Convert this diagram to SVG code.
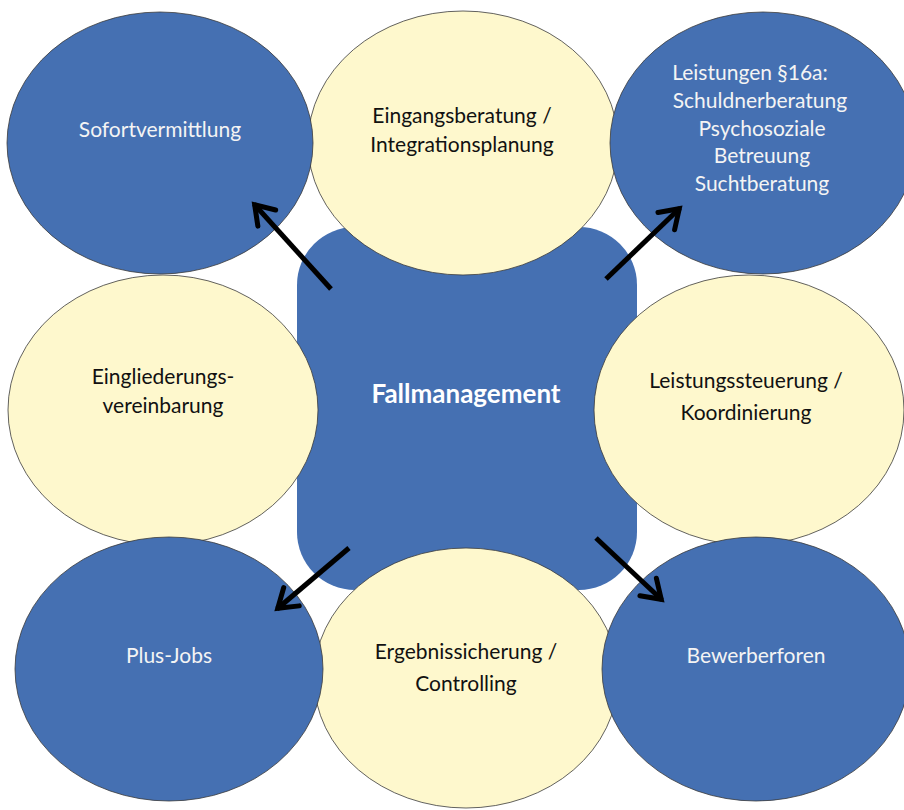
<svg xmlns="http://www.w3.org/2000/svg" width="904" height="810" viewBox="0 0 904 810">
<style>
.blue{fill:#4570B2;stroke:#3a3a3a;stroke-width:0.8}
.yel{fill:#FEF8CD;stroke:#3a3a3a;stroke-width:0.8}
.t{font-family:Lato,"Open Sans","Liberation Sans",sans-serif;font-size:21px;text-anchor:middle}
.w{fill:#F4F4F4}
.k{fill:#111}
.b{font-weight:bold;font-size:26px;fill:#fff}
.arr{stroke:#000;stroke-width:5;fill:none;marker-end:url(#head)}
</style>
<defs>
<marker id="head" markerUnits="userSpaceOnUse" viewBox="-25 -15 30 30" refX="0" refY="0" markerWidth="30" markerHeight="30" orient="auto" overflow="visible">
<path d="M-19,-12 L-1,0 L-19,12" fill="none" stroke="#000" stroke-width="5" stroke-linecap="round" stroke-linejoin="miter"/>
</marker>
</defs>
<rect width="904" height="810" fill="#fff"/>
<g id="center">
<rect x="297" y="227" width="340" height="363" rx="58" ry="58" fill="#4570B2"/>
</g>
<g id="eingangsberatung">
<ellipse class="yel" cx="463" cy="143" rx="155" ry="132"/>
<text class="t k" x="462" y="123">Eingangsberatung /</text>
<text class="t k" x="462" y="152">Integrationsplanung</text>
</g>
<g id="eingliederung">
<ellipse class="yel" cx="163" cy="410" rx="155" ry="135"/>
<text class="t k" x="163" y="384">Eingliederungs-</text>
<text class="t k" x="163" y="413">vereinbarung</text>
</g>
<g id="leistungssteuerung">
<ellipse class="yel" cx="749" cy="410" rx="155" ry="135"/>
<text class="t k" x="746" y="388">Leistungssteuerung /</text>
<text class="t k" x="746" y="420">Koordinierung</text>
</g>
<g id="ergebnissicherung">
<ellipse class="yel" cx="466" cy="678" rx="152" ry="130"/>
<text class="t k" x="466" y="659">Ergebnissicherung /</text>
<text class="t k" x="466" y="691">Controlling</text>
</g>
<g id="sofortvermittlung">
<ellipse class="blue" cx="160" cy="143" rx="153" ry="131"/>
<text class="t w" x="160" y="137">Sofortvermittlung</text>
</g>
<g id="leistungen16a">
<ellipse class="blue" cx="763" cy="143" rx="153" ry="131"/>
<text class="t w" x="750" y="80">Leistungen §16a:</text>
<text class="t w" x="760" y="108">Schuldnerberatung</text>
<text class="t w" x="762" y="136">Psychosoziale</text>
<text class="t w" x="762" y="163">Betreuung</text>
<text class="t w" x="762" y="191">Suchtberatung</text>
</g>
<g id="plusjobs">
<ellipse class="blue" cx="169" cy="669" rx="154" ry="132"/>
<text class="t w" x="169" y="663">Plus-Jobs</text>
</g>
<g id="bewerberforen">
<ellipse class="blue" cx="756" cy="669" rx="154" ry="132"/>
<text class="t w" x="756" y="663">Bewerberforen</text>
</g>
<g id="center-label">
<text class="t b" x="466" y="403">Fallmanagement</text>
</g>
<g id="connectors">
<line class="arr" x1="331" y1="289" x2="254" y2="204"/>
<line class="arr" x1="606" y1="279" x2="680" y2="208"/>
<line class="arr" x1="349" y1="548" x2="277" y2="609"/>
<line class="arr" x1="596" y1="538" x2="662" y2="600"/>
</g>
</svg>
